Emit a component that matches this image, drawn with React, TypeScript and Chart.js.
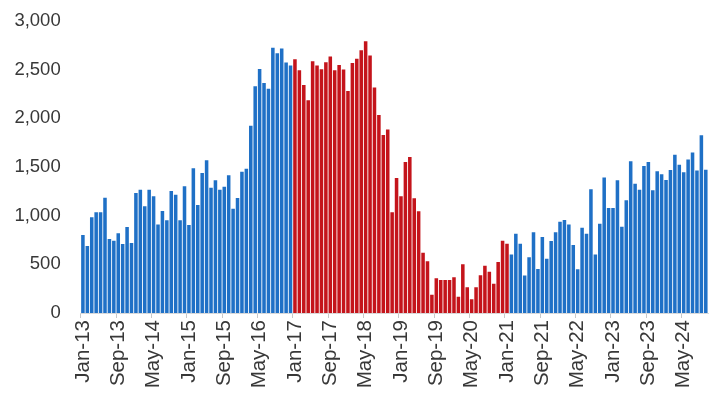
import React, { useEffect, useRef } from 'react';
import { Chart, registerables } from 'chart.js';

Chart.register(...registerables);

// Monthly values, Jan-13 .. Oct-24
const v2013 = [802, 689, 983, 1035, 1035, 1185, 760, 743, 819, 709, 884, 719];
const v2014 = [1233, 1267, 1096, 1267, 1199, 908, 1048, 952, 1254, 1216, 952, 1302];
const v2015 = [904, 1487, 1110, 1439, 1569, 1288, 1364, 1267, 1298, 1415, 1072, 1182];
const v2016 = [1452, 1483, 1925, 2330, 2508, 2364, 2305, 2724, 2669, 2717, 2573, 2542];
const v2017 = [2607, 2494, 2343, 2186, 2587, 2542, 2504, 2576, 2635, 2494, 2549, 2501];
const v2018 = [2282, 2569, 2611, 2700, 2792, 2645, 2316, 2035, 1829, 1884, 1035, 1387];
const v2019 = [1199, 1552, 1603, 1179, 1045, 620, 531, 188, 357, 339, 339, 339];
const v2020 = [367, 168, 500, 264, 141, 264, 387, 486, 425, 301, 524, 743];
const v2021 = [712, 600, 815, 712, 384, 572, 829, 452, 781, 558, 740, 829];
const v2022 = [938, 956, 908, 699, 449, 877, 815, 1271, 600, 918, 1391, 1079];
const v2023 = [1079, 1364, 887, 1158, 1559, 1329, 1267, 1511, 1552, 1261, 1456, 1425];
const v2024 = [1367, 1470, 1627, 1524, 1445, 1576, 1648, 1465, 1826, 1473];

const values = [
  ...v2013, ...v2014, ...v2015, ...v2016, ...v2017, ...v2018,
  ...v2019, ...v2020, ...v2021, ...v2022, ...v2023, ...v2024,
];

const monthNames = ['Jan', 'Feb', 'Mar', 'Apr', 'May', 'Jun', 'Jul', 'Aug', 'Sep', 'Oct', 'Nov', 'Dec'];
const yearSuffixes = ['13', '14', '15', '16', '17', '18', '19', '20', '21', '22', '23', '24'];
const categories = yearSuffixes
  .flatMap((y) => monthNames.map((m) => `${m}-${y}`))
  .slice(0, values.length);

// Highlighted period (red)
const highlightStart = 'Jan-17';
const highlightEnd = 'Jan-21';
const labelEvery = 8;

const BLUE = '#1f70c6';
const RED = '#c4141b';
const TEXT = '#383838';

export default function App() {
  const canvasRef = useRef<HTMLCanvasElement | null>(null);

  useEffect(() => {
    document.body.style.margin = '0';
    const canvas = canvasRef.current;
    if (!canvas) return;
    const hs = categories.indexOf(highlightStart);
    const he = categories.indexOf(highlightEnd);
    const colors = categories.map((_, i) => (i >= hs && i <= he ? RED : BLUE));
    const font = { family: '"Liberation Sans", Arial, sans-serif', size: 18.5 };

    const chart = new Chart(canvas, {
      type: 'bar',
      data: {
        labels: categories,
        datasets: [
          {
            data: values,
            backgroundColor: colors,
            borderWidth: 0,
            categoryPercentage: 1.0,
            barPercentage: 0.8,
          },
        ],
      },
      options: {
        responsive: false,
        animation: false,
        layout: { padding: { top: 21, right: 8, left: 0, bottom: 0 } },
        plugins: { legend: { display: false }, tooltip: { enabled: false } },
        scales: {
          x: {
            offset: true,
            grid: {
              display: true,
              offset: true,
              drawOnChartArea: false,
              drawTicks: true,
              tickLength: 5,
              color: (ctx: any) =>
                typeof ctx.index === 'number' && ctx.index % labelEvery === 0 ? '#c8c8c8' : 'rgba(0,0,0,0)',
            },
            border: { display: true, color: '#d9d9d9' },
            ticks: {
              autoSkip: false,
              maxRotation: 90,
              minRotation: 90,
              padding: 2,
              color: TEXT,
              font: { ...font, size: 20.5 },
              callback: (_v: any, i: number) => (i % labelEvery === 0 ? categories[i] : ''),
            },
            afterFit: (s: any) => {
              s.height = 84;
              s.paddingLeft = 0;
              s.paddingRight = 0;
            },
          },
          y: {
            min: 0,
            max: 3000,
            grid: { display: false, drawTicks: false },
            border: { display: false },
            ticks: {
              stepSize: 500,
              padding: 20,
              color: TEXT,
              font,
              callback: (v: any) => Number(v).toLocaleString('en-US'),
            },
            afterFit: (s: any) => {
              s.width = 80.7;
              s.paddingTop = 0;
              s.paddingBottom = 0;
            },
          },
        },
      },
    });
    return () => chart.destroy();
  }, []);

  return (
    <div style={{ width: 716, height: 397 }}>
      <canvas ref={canvasRef} width={716} height={397} />
    </div>
  );
}
